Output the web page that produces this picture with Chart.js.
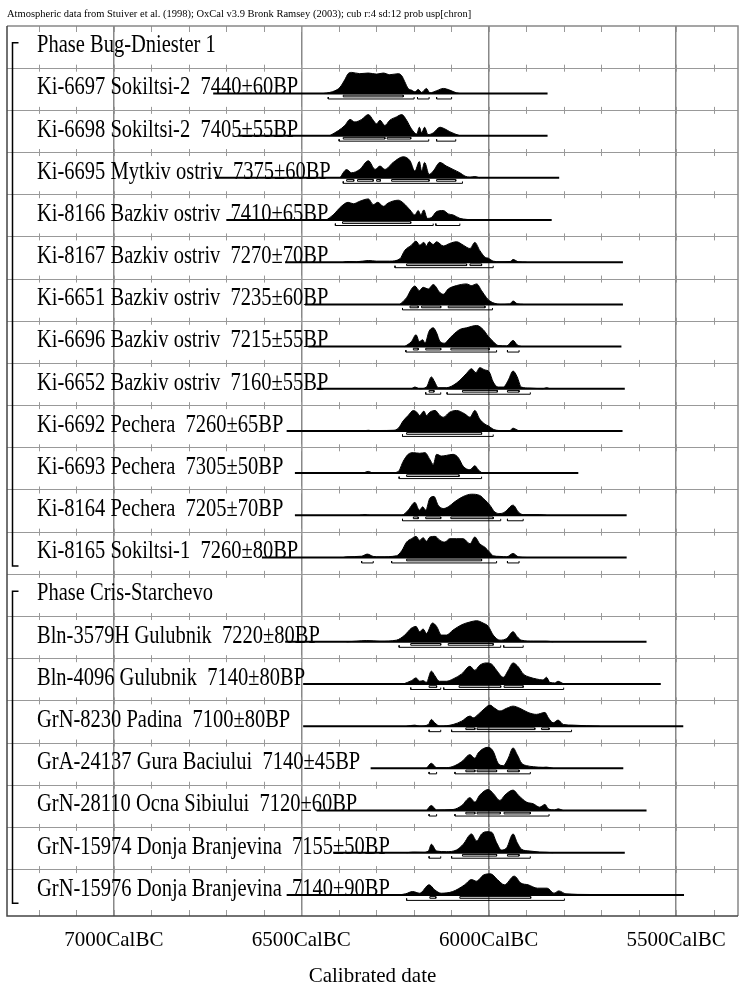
<!DOCTYPE html>
<html>
<head>
<meta charset="utf-8">
<script src="https://cdn.jsdelivr.net/npm/chart.js@4.4.1/dist/chart.umd.min.js"></script>
<style>
  html, body { margin: 0; padding: 0; background: #fff; }
  #chart { display: block; }
</style>
</head>
<body>
<canvas id="chart" width="739" height="989"></canvas>
<script>
// ---------------------------------------------------------------
// texts
// ---------------------------------------------------------------
const headerText = 'Atmospheric data from Stuiver et al. (1998); OxCal v3.9 Bronk Ramsey (2003); cub r:4 sd:12 prob usp[chron]';
const axisTitle = 'Calibrated date';

const labels = [
    'Phase Bug-Dniester 1',
    'Ki-6697 Sokiltsi-2  7440±60BP',
    'Ki-6698 Sokiltsi-2  7405±55BP',
    'Ki-6695 Mytkiv ostriv  7375±60BP',
    'Ki-8166 Bazkiv ostriv  7410±65BP',
    'Ki-8167 Bazkiv ostriv  7270±70BP',
    'Ki-6651 Bazkiv ostriv  7235±60BP',
    'Ki-6696 Bazkiv ostriv  7215±55BP',
    'Ki-6652 Bazkiv ostriv  7160±55BP',
    'Ki-6692 Pechera  7260±65BP',
    'Ki-6693 Pechera  7305±50BP',
    'Ki-8164 Pechera  7205±70BP',
    'Ki-8165 Sokiltsi-1  7260±80BP',
    'Phase Cris-Starchevo',
    'Bln-3579H Gulubnik  7220±80BP',
    'Bln-4096 Gulubnik  7140±80BP',
    'GrN-8230 Padina  7100±80BP',
    'GrA-24137 Gura Baciului  7140±45BP',
    'GrN-28110 Ocna Sibiului  7120±60BP',
    'GrN-15974 Donja Branjevina  7155±50BP',
    'GrN-15976 Donja Branjevina  7140±90BP'
];

// phases: first and last row of each group
const phases = [[0, 12], [13, 20]];

// axis (years cal BC)
const xFrom = 7285;
const xTo = 5335;
const majorTicks = [7000, 6500, 6000, 5500];
const minorTicks = [7200, 7100, 7000, 6900, 6800, 6700, 6600, 6500, 6400, 6300,
                    6200, 6100, 6000, 5900, 5800, 5700, 5600, 5500, 5400];
const rowLines = [1, 2, 3, 4, 5, 6, 7, 8, 9, 10, 11, 12, 13, 14, 15, 16, 17, 18, 19, 20];

// ---------------------------------------------------------------
// probability curves: [year BC, relative probability]
// ---------------------------------------------------------------
const ki6697 = [[6441,0],[6424,.05],[6410,.13],[6397,.29],[6384,.65],[6375,.94],[6366,1],[6344,.94],[6321,.97],[6299,.92],[6281,.97],[6264,.89],[6241,.94],[6232,.84],[6224,.56],[6215,.24],[6206,.16],[6197,.08],[6188,.19],[6179,.05],[6166,.24],[6157,.03],[6139,.13],[6121,.24],[6104,.16],[6086,.03],[6077,0]];
const ki6698 = [[6424,0],[6401,.24],[6384,.48],[6370,.77],[6357,.65],[6339,.77],[6321,1],[6308,.73],[6299,.56],[6290,.73],[6277,.48],[6264,.73],[6246,.89],[6232,1],[6219,.73],[6206,.32],[6192,.08],[6185,.4],[6179,.13],[6171,.4],[6162,.05],[6148,.13],[6130,.4],[6117,.32],[6104,.19],[6090,.08],[6077,0]];
const ki6695 = [[6397,0],[6379,.39],[6366,.24],[6344,.4],[6321,.81],[6303,.4],[6290,.56],[6277,.4],[6255,.73],[6228,1],[6210,.81],[6197,.32],[6185,.77],[6179,.32],[6171,.73],[6159,.16],[6148,.32],[6130,.73],[6113,.56],[6095,.4],[6077,.24],[6063,.08],[6050,.03],[6037,.06],[6024,0]];
const ki8166 = [[6433,0],[6415,.24],[6393,.65],[6375,.84],[6361,.77],[6344,.89],[6321,1],[6308,.73],[6296,.84],[6281,.65],[6268,.81],[6241,.94],[6228,.81],[6210,.48],[6197,.24],[6188,.45],[6181,.24],[6173,.48],[6164,.08],[6152,.13],[6139,.4],[6121,.45],[6108,.29],[6095,.24],[6077,.08],[6059,.03],[6041,0]];
const ki8167 = [[6388,0],[6379,.03],[6353,.02],[6321,.08],[6299,.05],[6264,.05],[6237,.16],[6224,.56],[6206,.81],[6194,1],[6184,.81],[6173,.94],[6166,.77],[6159,.97],[6148,.84],[6139,.97],[6121,.77],[6104,.89],[6086,.97],[6068,.81],[6050,.65],[6037,.94],[6024,.56],[6010,.24],[6001,.19],[5988,.05],[5970,.02],[5943,.03],[5935,.13],[5921,.02],[5899,0]];
const ki6651 = [[6237,0],[6219,.32],[6206,.73],[6197,.87],[6185,.65],[6175,.81],[6161,.73],[6148,.94],[6130,.56],[6121,.48],[6108,.73],[6086,.89],[6059,.97],[6046,.89],[6032,.97],[6019,.65],[6006,.32],[5997,.16],[5984,.05],[5970,0],[5944,.02],[5935,.16],[5924,.03],[5908,0]];
const ki6696 = [[6224,0],[6206,.24],[6194,.56],[6185,.24],[6176,.32],[6170,.16],[6159,.73],[6148,.89],[6139,.65],[6130,.24],[6117,.16],[6108,.32],[6095,.56],[6077,.81],[6059,.89],[6032,1],[6015,.81],[6001,.48],[5988,.24],[5975,.05],[5952,.03],[5935,.29],[5924,.08],[5912,0]];
const ki6652 = [[6206,0],[6197,.08],[6184,0],[6166,.08],[6153,.56],[6144,.32],[6135,.05],[6113,.05],[6095,.16],[6077,.4],[6059,.73],[6046,.95],[6034,.76],[6024,1],[6010,.89],[5999,.81],[5988,.32],[5975,.08],[5961,.08],[5948,.4],[5935,.84],[5924,.56],[5913,.08],[5890,.03],[5855,0],[5846,.05],[5837,0]];
const ki6692 = [[6335,0],[6321,.03],[6304,0],[6290,.02],[6255,.03],[6241,.13],[6228,.48],[6215,.73],[6201,.97],[6192,.89],[6184,.73],[6173,.94],[6166,.73],[6157,.89],[6143,.97],[6130,.73],[6121,.65],[6104,.89],[6086,.97],[6064,.81],[6050,.65],[6037,.97],[6024,.56],[6010,.32],[6001,.24],[5988,.08],[5970,.02],[5944,.02],[5935,.13],[5921,.02],[5908,0]];
const ki6693 = [[6335,0],[6321,.08],[6308,0],[6255,.02],[6241,.08],[6228,.56],[6215,.89],[6201,.97],[6184,.94],[6170,.97],[6157,.65],[6148,.4],[6139,.89],[6126,.81],[6113,.84],[6095,.89],[6081,.73],[6068,.32],[6050,.16],[6037,.35],[6028,.16],[6019,.03],[6006,0]];
const ki8164 = [[6344,0],[6330,.03],[6317,0],[6232,0],[6215,.24],[6197,.61],[6185,.24],[6176,.4],[6168,.24],[6157,.81],[6146,.89],[6135,.48],[6121,.32],[6108,.4],[6090,.65],[6068,.89],[6046,1],[6024,.94],[6010,.73],[5997,.48],[5984,.16],[5970,.08],[5957,.16],[5935,.48],[5921,.16],[5908,.03],[5864,.03],[5846,0]];
const ki8165 = [[6388,0],[6379,.03],[6339,.06],[6324,.16],[6308,.05],[6290,.03],[6246,.08],[6232,.32],[6219,.73],[6206,.89],[6194,1],[6184,.81],[6175,.94],[6166,.77],[6157,.97],[6143,1],[6130,.81],[6117,.73],[6104,.89],[6086,.89],[6068,.89],[6050,.65],[6037,.97],[6024,.65],[6010,.48],[5997,.24],[5988,.08],[5970,.05],[5952,.03],[5935,.19],[5921,.03],[5899,0]];
const bln3579 = [[6379,0],[6353,.03],[6326,.06],[6290,.03],[6246,.08],[6224,.32],[6206,.65],[6194,.73],[6184,.48],[6175,.61],[6166,.4],[6150,.89],[6139,.73],[6126,.32],[6113,.32],[6095,.56],[6072,.81],[6050,.94],[6032,1],[6015,.89],[6001,.73],[5988,.32],[5970,.08],[5952,.16],[5935,.48],[5924,.24],[5913,.08],[5881,.03],[5846,.03],[5828,0]];
const bln4096 = [[6228,0],[6206,.16],[6194,.29],[6184,.13],[6175,.16],[6166,.08],[6153,.61],[6144,.4],[6132,.13],[6113,.13],[6095,.24],[6072,.48],[6050,.84],[6037,.65],[6024,.89],[6006,1],[5992,.94],[5979,.65],[5961,.32],[5948,.65],[5935,1],[5921,.81],[5908,.48],[5890,.32],[5873,.24],[5855,.19],[5846,.32],[5837,.08],[5824,.05],[5815,.13],[5801,.02],[5784,0]];
const grn8230 = [[6219,0],[6197,.05],[6184,0],[6161,.08],[6153,.32],[6144,.16],[6130,0],[6095,.08],[6072,.24],[6050,.48],[6041,.4],[6028,.56],[6010,.85],[5997,1],[5984,.85],[5970,.72],[5952,.85],[5935,.95],[5917,.85],[5895,.65],[5873,.56],[5850,.65],[5841,.4],[5828,.16],[5815,.29],[5801,.08],[5775,.05],[5739,.02],[5704,0]];
const gra24137 = [[6166,0],[6153,.24],[6139,.03],[6113,.03],[6090,.13],[6072,.32],[6050,.65],[6037,.48],[6028,.73],[6014,.94],[6001,1],[5988,.81],[5975,.24],[5961,.13],[5948,.48],[5935,.97],[5924,.65],[5912,.24],[5899,.13],[5881,.08],[5855,.05],[5846,.06],[5828,0]];
const grn28110 = [[6166,0],[6153,.24],[6139,.03],[6095,.05],[6072,.24],[6050,.61],[6037,.4],[6024,.73],[6001,1],[5988,.81],[5970,.48],[5957,.73],[5935,.97],[5921,.73],[5899,.4],[5881,.32],[5864,.16],[5850,.29],[5841,.08],[5824,.03],[5815,.08],[5801,0]];
const grn15974 = [[6219,0],[6201,.03],[6175,.02],[6161,.08],[6153,.4],[6139,.08],[6113,.05],[6086,.13],[6068,.4],[6046,.89],[6032,.56],[6019,.89],[6006,1],[5992,.97],[5979,.48],[5966,.13],[5952,.24],[5935,.89],[5924,.48],[5912,.16],[5890,.08],[5864,.03],[5846,.02],[5828,0]];
const grn15976 = [[6240,0],[6222,.05],[6203,.16],[6184,.08],[6159,.48],[6144,.24],[6127,.08],[6096,.16],[6064,.48],[6046,.73],[6033,.65],[6014,.94],[5995,1],[5977,.73],[5958,.48],[5932,.89],[5914,.56],[5895,.48],[5870,.32],[5844,.32],[5826,.08],[5813,.19],[5794,.05],[5731,.02],[5669,0]];

const curves = [null, ki6697, ki6698, ki6695, ki8166, ki8167, ki6651, ki6696, ki6652,
                ki6692, ki6693, ki8164, ki8165, null, bln3579, bln4096, grn8230,
                gra24137, grn28110, grn15974, grn15976];

// 68.2% and 95.4% ranges (years BC)
const ranges68 = [
    null,
    [[6388,6228]],
    [[6388,6277],[6271,6208]],
    [[6379,6360],[6350,6308],[6299,6289],[6259,6159],[6139,6088]],
    [[6390,6208]],
    [[6219,6059],[6050,6019]],
    [[6210,6188],[6179,6128],[6108,6010]],
    [[6201,6188],[6168,6128],[6101,5999]],
    [[6159,6146],[6070,5977],[5950,5919]],
    [[6219,6019]],
    [[6219,6079]],
    [[6201,6188],[6168,6128],[6101,5988]],
    [[6219,6019]],
    null,
    [[6208,6128],[6108,5988]],
    [[6159,6139],[6079,5968],[5959,5908]],
    [[6061,6037],[6031,5877],[5859,5839]],
    [[6061,6037],[6031,5979],[5950,5919]],
    [[6061,6037],[6031,5969],[5959,5889]],
    [[6070,5979],[5950,5919]],
    [[6157,6141],[6077,5888]]
];
const ranges95 = [
    null,
    [[6428,6199],[6190,6159],[6139,6099]],
    [[6399,6160],[6139,6088]],
    [[6388,6070]],
    [[6409,6148],[6141,6077]],
    [[6250,5988]],
    [[6230,5990]],
    [[6221,5979],[5950,5919]],
    [[6168,6128],[6111,5889]],
    [[6230,5988]],
    [[6239,6019]],
    [[6230,5968],[5950,5908]],
    [[6339,6308],[6259,5979],[5950,5919]],
    null,
    [[6239,5968],[5960,5908]],
    [[6208,6128],[6120,5800]],
    [[6159,6128],[6099,5779]],
    [[6159,6139],[6090,5889]],
    [[6159,6139],[6090,5839]],
    [[6159,6128],[6099,5889]],
    [[6219,5798]]
];

// extent of each row's base line (years BC)
const lineFrom = [null, 6735, 6668, 6730, 6700, 6543, 6490, 6481, 6459, 6539, 6517,
                  6517, 6605, null, 6543, 6495, 6495, 6315, 6459, 6415, 6539];
const lineTo = [null, 5843, 5843, 5812, 5832, 5642, 5642, 5646, 5637, 5643, 5761,
                5632, 5632, null, 5579, 5541, 5481, 5641, 5579, 5637, 5479];

// ---------------------------------------------------------------
// datasets
// ---------------------------------------------------------------
const BASE = 0.6;   // base line, in rows below the row top
const PEAK = 0.5;   // height of the highest point of a curve, in rows
const SERIF = '"Liberation Serif", "Times New Roman", serif';

const datasets = [];
curves.forEach((curve, row) => {
    if (!curve) return;
    const base = row + BASE;

    datasets.push({
        data: curve.map(([year, p]) => ({ x: year, y: base - p * PEAK })),
        borderColor: '#000',
        backgroundColor: '#000',
        borderWidth: 1,
        fill: { value: base },
        cubicInterpolationMode: 'monotone'
    });

    datasets.push({
        data: [{ x: lineFrom[row], y: base }, { x: lineTo[row], y: base }],
        borderColor: '#000',
        borderWidth: 2,
        fill: false
    });

    // 68.2% : thin open boxes just under the line
    const box = [];
    ranges68[row].forEach(([a, b]) => {
        box.push({ x: a, y: base + 0.04 }, { x: b, y: base + 0.04 },
                 { x: b, y: base + 0.08 }, { x: a, y: base + 0.08 },
                 { x: a, y: base + 0.04 }, { x: a, y: null });
    });
    datasets.push({ data: box, borderColor: '#000', borderWidth: 1, fill: false });

    // 95.4% : brackets below
    const brk = [];
    ranges95[row].forEach(([a, b]) => {
        brk.push({ x: a, y: base + 0.085 }, { x: a, y: base + 0.13 },
                 { x: b, y: base + 0.13 }, { x: b, y: base + 0.085 },
                 { x: b, y: null });
    });
    datasets.push({ data: brk, borderColor: '#000', borderWidth: 1, fill: false });
});

// ---------------------------------------------------------------
// drawing of frame, small ticks, labels
// ---------------------------------------------------------------
const oxcalPlugin = {
    id: 'oxcal',
    beforeDatasetsDraw(chart) {
        const { ctx, chartArea: a, scales: { x, y } } = chart;
        ctx.save();
        ctx.strokeStyle = '#999';
        ctx.lineWidth = 1;
        ctx.beginPath();
        minorTicks.forEach(year => {
            const px = Math.round(x.getPixelForValue(year)) + 0.5;
            ctx.moveTo(px, a.top);
            ctx.lineTo(px, a.top + 6);
            ctx.moveTo(px, a.bottom);
            ctx.lineTo(px, a.bottom - 6);
            rowLines.forEach(r => {
                const py = y.getPixelForValue(r);
                ctx.moveTo(px, py - 3.5);
                ctx.lineTo(px, py + 3.5);
            });
        });
        ctx.stroke();
        ctx.restore();
    },
    afterDatasetsDraw(chart) {
        const { ctx, chartArea: a, scales: { y } } = chart;
        ctx.save();

        // row labels, tall narrow type like the original
        ctx.fillStyle = '#000';
        ctx.textBaseline = 'alphabetic';
        ctx.font = '25px ' + SERIF;
        labels.forEach((text, row) => {
            ctx.save();
            ctx.translate(a.left + 30, y.getPixelForValue(row + 0.62));
            ctx.scale(0.82, 1);
            ctx.fillText(text, 0, 0);
            ctx.restore();
        });

        // header line
        ctx.font = '10.5px ' + SERIF;
        ctx.fillText(headerText, a.left, 17);

        // phase brackets
        ctx.strokeStyle = '#000';
        ctx.lineWidth = 1.5;
        ctx.beginPath();
        phases.forEach(([first, last]) => {
            const top = y.getPixelForValue(first + 0.4);
            const bot = y.getPixelForValue(last + 0.8);
            ctx.moveTo(a.left + 11.5, top);
            ctx.lineTo(a.left + 5.5, top);
            ctx.lineTo(a.left + 5.5, bot);
            ctx.lineTo(a.left + 11.5, bot);
        });
        ctx.stroke();

        // frame
        ctx.lineWidth = 1.5;
        ctx.strokeStyle = '#888';
        ctx.beginPath();
        ctx.moveTo(a.left, a.top);
        ctx.lineTo(a.right, a.top);
        ctx.lineTo(a.right, a.bottom);
        ctx.stroke();
        ctx.strokeStyle = '#444';
        ctx.beginPath();
        ctx.moveTo(a.left, a.top);
        ctx.lineTo(a.left, a.bottom);
        ctx.lineTo(a.right, a.bottom);
        ctx.stroke();
        ctx.restore();
    }
};

new Chart(document.getElementById('chart'), {
    type: 'line',
    data: { datasets },
    options: {
        responsive: false,
        animation: false,
        events: [],
        layout: { padding: { top: 26, left: 7, right: 1, bottom: 0 } },
        elements: {
            point: { radius: 0 },
            line: { tension: 0 }
        },
        plugins: {
            legend: { display: false },
            tooltip: { enabled: false },
            title: { display: false }
        },
        scales: {
            x: {
                type: 'linear',
                reverse: true,
                min: xTo,
                max: xFrom,
                afterBuildTicks: s => { s.ticks = majorTicks.map(v => ({ value: v })); },
                afterFit: s => { s.height = 73; },
                ticks: {
                    callback: v => v + 'CalBC',
                    font: { family: SERIF, size: 21 },
                    color: '#000',
                    padding: 12,
                    autoSkip: false,
                    maxRotation: 0
                },
                grid: { color: '#888', lineWidth: 1.5, drawTicks: false },
                border: { display: false },
                title: {
                    display: true,
                    text: axisTitle,
                    font: { family: SERIF, size: 21 },
                    color: '#000',
                    padding: { top: 0, bottom: 0 }
                }
            },
            y: {
                type: 'linear',
                reverse: true,
                min: 0,
                max: 21.1,
                afterBuildTicks: s => { s.ticks = rowLines.map(v => ({ value: v })); },
                afterFit: s => { s.width = 0; },
                ticks: { display: false },
                grid: { color: '#999', lineWidth: 1, drawTicks: false },
                border: { display: false }
            }
        }
    },
    plugins: [oxcalPlugin]
});
</script>
</body>
</html>
